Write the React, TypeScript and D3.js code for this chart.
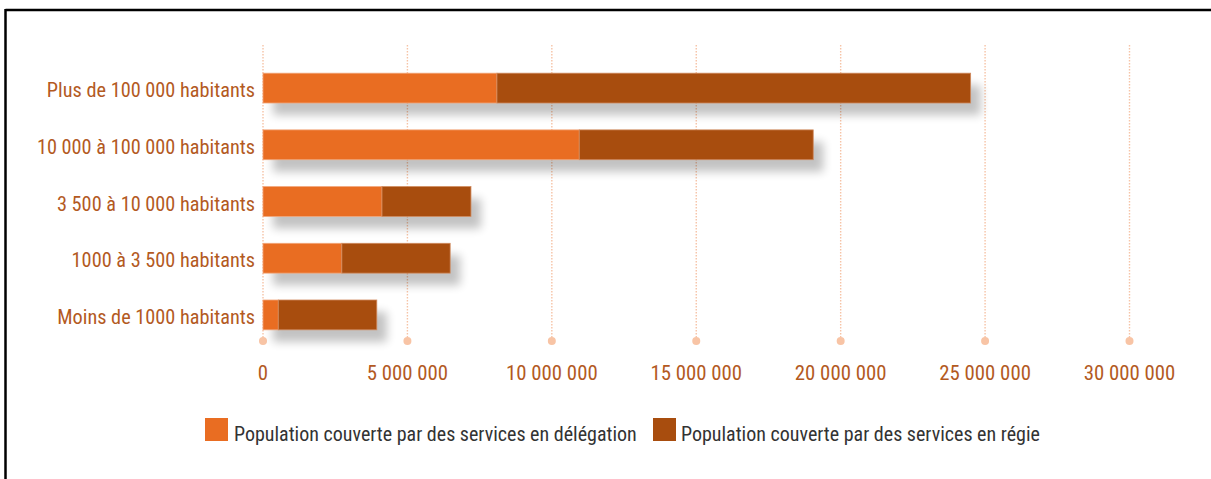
import React from "react";
import * as d3 from "d3";

const categories = [
  "Plus de 100 000 habitants",
  "10 000 à 100 000 habitants",
  "3 500 à 10 000 habitants",
  "1000 à 3 500 habitants",
  "Moins de 1000 habitants",
];
const delegation = [8100000, 10950000, 4120000, 2730000, 530000];
const regie = [16400000, 8100000, 3080000, 3750000, 3410000];
const xTicks = [0, 5000000, 10000000, 15000000, 20000000, 25000000, 30000000];
const seriesNames = [
  "Population couverte par des services en délégation",
  "Population couverte par des services en régie",
];

const W = 1211;
const H = 479;
const C_DEL = "#E96D22";
const C_REG = "#A84D0E";
const C_TXT = "#B35A1F";
const FONT = "'Roboto Condensed', 'Liberation Sans Narrow', 'Arial Narrow', sans-serif";

export default function App() {
  const x = d3.scaleLinear().domain([0, 30000000]).range([263, 1129.5]);
  const y = d3.scaleBand().domain(categories).range([59, 344]).paddingInner(0.474).paddingOuter(0.25);
  const fmt = (v: number) => d3.format(",")(v).replace(/,/g, " ");
  const stacked = categories.map((c, i) => ({ c, d: delegation[i], r: regie[i] }));

  return (
    <svg width={W} height={H} style={{ position: "absolute", left: 0, top: 0, background: "#fff" }}>
      <defs>
        <filter id="sh" x="-10%" y="-50%" width="130%" height="250%">
          <feGaussianBlur in="SourceAlpha" stdDeviation="5" />
          <feOffset dx="10" dy="12" result="b" />
          <feComponentTransfer>
            <feFuncA type="linear" slope="0.24" />
          </feComponentTransfer>
        </filter>
      </defs>
      <rect x={0} y={0} width={W} height={H} fill="#fff" />
      <line x1={5.5} y1={10} x2={W} y2={10} stroke="#000" strokeWidth={2.5} />
      <line x1={5.5} y1={9} x2={5.5} y2={H} stroke="#000" strokeWidth={2.5} />

      {xTicks.map((t) => (
        <g key={t}>
          <line x1={x(t)} x2={x(t)} y1={45} y2={340} stroke="#F6C3A6" strokeWidth={1.4} strokeDasharray="1.5 1.5" />
          <circle cx={x(t)} cy={341} r={4} fill="#F8C4A5" />
          <text x={x(t)} y={380} textAnchor="middle" fontFamily={FONT} fontSize={20.8} fill={C_TXT}>
            {fmt(t)}
          </text>
        </g>
      ))}

      {stacked.map((s) => (
        <rect key={"sh" + s.c} x={x(0)} y={y(s.c)!} width={x(s.d + s.r) - x(0)} height={y.bandwidth()} fill="#000" filter="url(#sh)" />
      ))}

      {stacked.map((s) => (
        <g key={s.c}>
          <rect x={x(0)} y={y(s.c)!} width={x(s.d) - x(0)} height={y.bandwidth()} fill={C_DEL} stroke="#F2A67A" strokeWidth={0.8} />
          <rect x={x(s.d)} y={y(s.c)!} width={x(s.d + s.r) - x(s.d)} height={y.bandwidth()} fill={C_REG} stroke="#D08A5E" strokeWidth={0.8} />
          <text x={255} y={y(s.c)! + y.bandwidth() / 2 + 9} textAnchor="end" fontFamily={FONT} fontSize={20.3} fill={C_TXT}>
            {s.c}
          </text>
        </g>
      ))}

      <g>
        <rect x={205} y={418} width={23} height={23} fill={C_DEL} />
        <text x={234} y={441} fontFamily={FONT} fontSize={20} fill="#333">{seriesNames[0]}</text>
        <rect x={653} y={418} width={23} height={23} fill={C_REG} />
        <text x={681} y={441} fontFamily={FONT} fontSize={20} fill="#333">{seriesNames[1]}</text>
      </g>
    </svg>
  );
}
